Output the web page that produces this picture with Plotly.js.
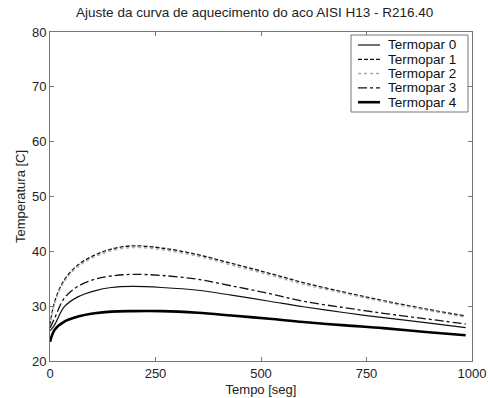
<!DOCTYPE html>
<html><head><meta charset="utf-8">
<script src="https://cdn.plot.ly/plotly-3.0.1.min.js"></script>
<style>html,body{margin:0;padding:0;background:#fff}#chart{width:488px;height:398px}</style>
</head><body><div id="chart"></div>
<script>
const tempo = [0, 11, 34, 66, 106, 145, 195, 265, 350, 430, 520, 600, 700, 790, 890, 985];
const termopar0 = [25.5, 26.6, 29.9, 31.7, 32.8, 33.4, 33.6, 33.4, 32.9, 32.0, 30.9, 29.9, 28.8, 27.9, 27.0, 26.1];
const termopar1 = [26.5, 30.8, 34.8, 37.5, 39.3, 40.4, 41.0, 40.6, 39.4, 37.8, 36.0, 34.3, 32.5, 31.0, 29.5, 28.2];
const termopar2 = [26.3, 30.5, 34.5, 37.2, 39.0, 40.1, 40.7, 40.3, 39.1, 37.5, 35.7, 34.0, 32.3, 30.8, 29.3, 28.0];
const termopar3 = [26.0, 27.8, 31.5, 33.6, 34.9, 35.5, 35.8, 35.6, 34.9, 33.7, 32.3, 30.9, 29.7, 28.7, 27.7, 26.75];
const termopar4 = [23.5, 25.7, 27.2, 28.1, 28.7, 29.0, 29.1, 29.1, 28.8, 28.3, 27.7, 27.1, 26.5, 26.0, 25.3, 24.7];
const names = ['Termopar 0', 'Termopar 1', 'Termopar 2', 'Termopar 3', 'Termopar 4'];
const xTicks = [0, 250, 500, 750, 1000];
const yTicks = [20, 30, 40, 50, 60, 70, 80];

const series = [termopar0, termopar1, termopar2, termopar3, termopar4];
const styles = [
  {color: '#111', width: 1.2, dash: 'solid'},
  {color: '#111', width: 1.3, dash: '4px,2px'},
  {color: '#aaa', width: 1.5, dash: 'dot'},
  {color: '#111', width: 1.3, dash: 'dashdot'},
  {color: '#000', width: 2.6, dash: 'solid'}
];
const FONT = 'Liberation Sans, Arial';
const traces = series.map((y, i) => ({
  x: tempo, y: y, name: names[i], type: 'scatter', mode: 'lines', showlegend: false,
  line: Object.assign({shape: 'spline', smoothing: 1}, styles[i])
}));

// custom legend (pixel -> paper helpers)
const L = 50, T = 32, W = 422, H = 329;
const px = v => (v - L) / W;
const py = v => (T + H - v) / H;
const shapes = [{type: 'rect', xref: 'paper', yref: 'paper', x0: px(351), x1: px(468), y0: py(112), y1: py(35),
  line: {color: '#777', width: 1}, fillcolor: '#fff', layer: 'above'}];
const annotations = [];
const rowY = [45, 59.3, 73.5, 87.8, 102.2];
names.forEach((n, i) => {
  shapes.push({type: 'line', xref: 'paper', yref: 'paper', x0: px(358), x1: px(380), y0: py(rowY[i]), y1: py(rowY[i]),
    line: {color: styles[i].color, width: styles[i].width, dash: styles[i].dash}, layer: 'above'});
  annotations.push({xref: 'paper', yref: 'paper', x: px(386), y: py(rowY[i]), xanchor: 'left', yanchor: 'middle',
    text: n, showarrow: false, font: {family: FONT, size: 13.5, color: '#111'}});
});

const axisCommon = {
  showgrid: false, zeroline: false, showline: true, linecolor: '#777', linewidth: 1,
  mirror: 'ticks', ticks: 'inside', ticklen: 4, tickcolor: '#777',
  tickfont: {family: FONT, size: 13, color: '#222'}
};
const layout = {
  width: 488, height: 398,
  margin: {l: L, r: 488 - L - W, t: T, b: 398 - T - H},
  paper_bgcolor: '#fff', plot_bgcolor: '#fff',
  title: {text: 'Ajuste da curva de aquecimento do aco AISI H13 - R216.40',
    font: {family: FONT, size: 13.5, color: '#222'}, xref: 'container', x: 0.522, xanchor: 'center', y: 0.968, yanchor: 'middle'},
  xaxis: Object.assign({}, axisCommon, {range: [0, 1000], tickvals: xTicks, ticktext: xTicks.map(String),
    title: {text: 'Tempo [seg]', font: {family: FONT, size: 13, color: '#222'}, standoff: 5}}),
  yaxis: Object.assign({}, axisCommon, {range: [20, 80], tickvals: yTicks, ticktext: yTicks.map(String),
    title: {text: 'Temperatura [C]', font: {family: FONT, size: 13, color: '#222'}, standoff: 3}}),
  shapes: shapes,
  annotations: annotations,
  showlegend: false
};
Plotly.newPlot('chart', traces, layout, {displayModeBar: false, staticPlot: true});
</script></body></html>
